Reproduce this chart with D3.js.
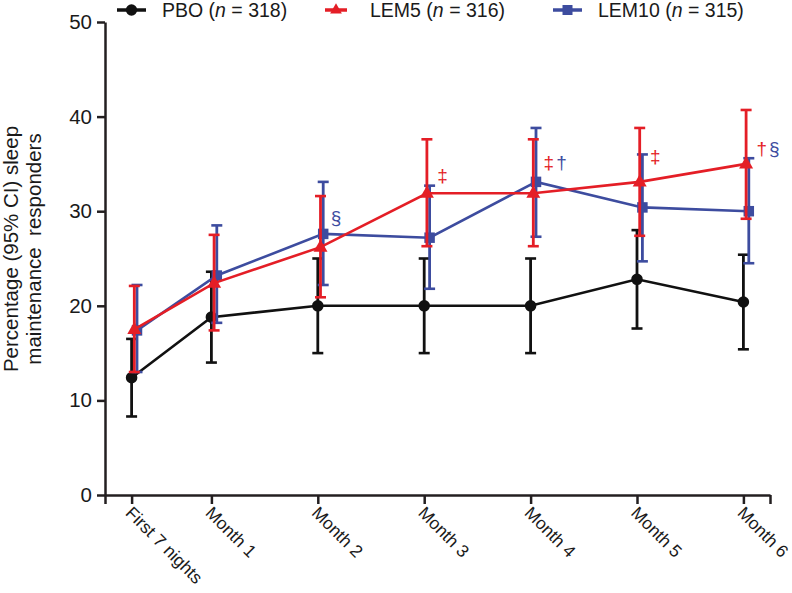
<!DOCTYPE html>
<html>
<head>
<meta charset="utf-8">
<script src="https://cdn.jsdelivr.net/npm/d3@7"></script>
<style>
  html, body { margin: 0; padding: 0; background: #fff; }
  svg { display: block; font-family: "Liberation Sans", Arial, sans-serif; }
</style>
</head>
<body>
<svg id="chart" width="792" height="593"></svg>
<script>
// ---- data ----
const categories = ["First 7 nights", "Month 1", "Month 2", "Month 3", "Month 4", "Month 5", "Month 6"];
const timePoints = [0.25, 1, 2, 3, 4, 5, 6];   // position on time axis (months)
const yTicks = [0, 10, 20, 30, 40, 50];

const pboValues   = [12.4, 18.8, 20.0, 20.0, 20.0, 22.8, 20.4];
const pboLower    = [8.3, 14.0, 15.0, 15.0, 15.0, 17.6, 15.4];
const pboUpper    = [16.5, 23.6, 25.0, 25.0, 25.0, 28.0, 25.4];

const lem5Values  = [17.5, 22.4, 26.2, 31.9, 31.9, 33.1, 35.0];
const lem5Lower   = [13.0, 17.4, 20.9, 26.3, 26.3, 27.4, 29.2];
const lem5Upper   = [22.1, 27.5, 31.6, 37.6, 37.6, 38.8, 40.7];

const lem10Values = [17.4, 23.2, 27.6, 27.2, 33.1, 30.4, 30.0];
const lem10Lower  = [13.0, 18.2, 22.2, 21.8, 27.3, 24.7, 24.5];
const lem10Upper  = [22.2, 28.5, 33.1, 32.7, 38.8, 36.0, 35.6];

const seriesNames = ["PBO", "LEM5", "LEM10"];
const seriesN = [318, 316, 315];

// significance annotations: category index, y (data units), symbols with their series
const annotations = [
  { i: 2, y: 29.4, parts: [{ text: "§", s: "LEM10" }] },
  { i: 3, y: 33.8, parts: [{ text: "‡", s: "LEM5" }] },
  { i: 4, y: 35.2, parts: [{ text: "‡", s: "LEM5" }, { text: "†", s: "LEM10" }] },
  { i: 5, y: 35.8, parts: [{ text: "‡", s: "LEM5" }] },
  { i: 6, y: 36.7, parts: [{ text: "†", s: "LEM5" }, { text: "§", s: "LEM10" }] }
];

// ---- setup ----
const svg = d3.select("#chart");
const axisColor = "#231f20";
const colors = { PBO: "#111111", LEM5: "#e41e26", LEM10: "#3d4c9f" };
const offsets = { PBO: 0, LEM5: 2.7, LEM10: 5.4 };

const x = d3.scaleLinear().domain([0, 6.25]).range([105, 770]);
const y = d3.scaleLinear().domain([0, 50]).range([495, 22]);

// ---- axes ----
const yAxis = svg.append("g")
  .attr("transform", `translate(${x(0)},0)`)
  .call(d3.axisLeft(y).tickValues(yTicks).tickSize(8).tickPadding(5).tickSizeOuter(0));
yAxis.select(".domain").attr("stroke", axisColor).attr("stroke-width", 2.5);
yAxis.selectAll(".tick line").attr("stroke", axisColor).attr("stroke-width", 2.5);
yAxis.selectAll(".tick text").attr("fill", "#1a1a1a").attr("font-size", 20.5)
  .attr("font-family", "Liberation Sans, Arial, sans-serif");

const xTickVals = [0].concat(timePoints).concat([6.25]);
const xAxis = svg.append("g")
  .attr("transform", `translate(0,${y(0)})`)
  .call(d3.axisBottom(x).tickValues(xTickVals).tickSize(9).tickSizeOuter(0).tickFormat(() => ""));
xAxis.select(".domain").attr("stroke", axisColor).attr("stroke-width", 2.5);
xAxis.selectAll(".tick line").attr("stroke", axisColor).attr("stroke-width", 2.5);

// rotated x labels
svg.append("g").selectAll("text")
  .data(categories)
  .join("text")
  .attr("transform", (d, i) => `translate(${x(timePoints[i]) - 7},${y(0) + 19}) rotate(45)`)
  .attr("font-size", 17.5)
  .attr("fill", "#1a1a1a")
  .text(d => d);

// y title
const yTitle = svg.append("text")
  .attr("transform", `translate(18,249) rotate(-90)`)
  .attr("text-anchor", "middle")
  .attr("font-size", 20.5)
  .attr("fill", "#1a1a1a");
yTitle.append("tspan").attr("x", 0).attr("y", 0).text("Percentage (95% CI) sleep");
yTitle.append("tspan").attr("x", 0).attr("y", 23).style("white-space", "pre").text("maintenance  responders");

// ---- series ----
const seriesData = {
  PBO:   { v: pboValues,   lo: pboLower,   hi: pboUpper },
  LEM5:  { v: lem5Values,  lo: lem5Lower,  hi: lem5Upper },
  LEM10: { v: lem10Values, lo: lem10Lower, hi: lem10Upper }
};

const line = d3.line().x(d => d.x).y(d => d.y);

function drawSeries(name) {
  const s = seriesData[name];
  const col = colors[name];
  const off = offsets[name];
  const pts = s.v.map((v, i) => ({ x: x(timePoints[i]) + off, y: y(v), lo: y(s.lo[i]), hi: y(s.hi[i]) }));
  const g = svg.append("g");
  g.append("path").datum(pts).attr("d", line)
    .attr("fill", "none").attr("stroke", col).attr("stroke-width", 2.6);
  const eb = g.selectAll(".eb").data(pts).join("g");
  eb.append("line").attr("x1", d => d.x).attr("x2", d => d.x).attr("y1", d => d.lo).attr("y2", d => d.hi)
    .attr("stroke", col).attr("stroke-width", 2.8);
  eb.append("line").attr("x1", d => d.x - 5.5).attr("x2", d => d.x + 5.5).attr("y1", d => d.hi).attr("y2", d => d.hi)
    .attr("stroke", col).attr("stroke-width", 2.6);
  eb.append("line").attr("x1", d => d.x - 5.5).attr("x2", d => d.x + 5.5).attr("y1", d => d.lo).attr("y2", d => d.lo)
    .attr("stroke", col).attr("stroke-width", 2.6);
  const sym = name === "PBO" ? d3.symbolCircle : (name === "LEM5" ? d3.symbolTriangle : d3.symbolSquare);
  const size = name === "PBO" ? 105 : (name === "LEM5" ? 85 : 110);
  g.selectAll(".mk").data(pts).join("path")
    .attr("transform", d => `translate(${d.x},${d.y + (name === "LEM5" ? 0.5 : 0)})`)
    .attr("d", d3.symbol().type(sym).size(size))
    .attr("fill", col);
}
drawSeries("PBO");
drawSeries("LEM10");
drawSeries("LEM5");

// annotations
const ann = svg.append("g").selectAll("text")
  .data(annotations)
  .join("text")
  .attr("x", d => x(timePoints[d.i]) + 13)
  .attr("y", d => y(d.y) + 7)
  .attr("font-size", 19);
ann.selectAll("tspan")
  .data(d => d.parts)
  .join("tspan")
  .attr("fill", p => colors[p.s])
  .attr("dx", (p, j) => j > 0 ? 2 : 0)
  .text(p => p.text);

// ---- legend ----
const legendX = [117, 325, 553];
const leg = svg.append("g");
seriesNames.forEach((name, i) => {
  const lx = legendX[i];
  const ly = 10;
  const col = colors[name];
  const lg = leg.append("g");
  const w = name === "LEM5" ? 22 : 29;
  lg.append("line").attr("x1", lx).attr("x2", lx + w).attr("y1", ly).attr("y2", ly)
    .attr("stroke", col).attr("stroke-width", 3.5);
  const sym = name === "PBO" ? d3.symbolCircle : (name === "LEM5" ? d3.symbolTriangle : d3.symbolSquare);
  lg.append("path").attr("transform", `translate(${lx + w / 2},${ly})`)
    .attr("d", d3.symbol().type(sym).size(name === "LEM5" ? 60 : 100)).attr("fill", col);
  const t = lg.append("text").attr("x", lx + 45).attr("y", ly + 7)
    .attr("font-size", 19.5).attr("fill", "#1a1a1a");
  t.append("tspan").text(name + " (");
  t.append("tspan").attr("font-style", "italic").text("n");
  t.append("tspan").text(" = " + seriesN[i] + ")");
});
</script>
</body>
</html>
